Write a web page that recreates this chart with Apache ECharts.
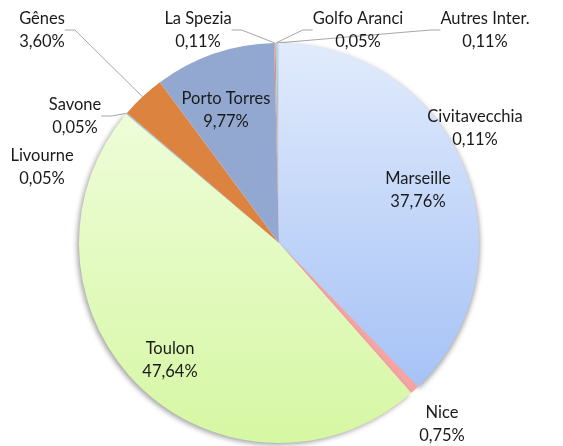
<!DOCTYPE html>
<html>
<head>
<meta charset="utf-8">
<script src="https://cdn.jsdelivr.net/npm/echarts@6/dist/echarts.min.js"></script>
<style>
  html, body { margin: 0; padding: 0; background: #fff; }
  #chart { width: 563px; height: 446px; }
</style>
</head>
<body>
<div id="chart"></div>
<script>
// ports, in drawing order (clockwise from 12 o'clock)
var ports = ['Marseille', 'Nice', 'Toulon', 'Livourne', 'Savone', 'Gênes',
             'Porto Torres', 'La Spezia', 'Golfo Aranci', 'Autres Inter.', 'Civitavecchia'];
var shares = [37.76, 0.75, 47.64, 0.05, 0.05, 3.60, 9.77, 0.11, 0.05, 0.11, 0.11];

// where each label block sits (centre of the two lines)
var labelPos = {
  'Marseille':     [418, 190],
  'Nice':          [442, 424],
  'Toulon':        [170, 360],
  'Livourne':      [42, 167],
  'Savone':        [75, 116],
  'Gênes':         [42, 30],
  'Porto Torres':  [226, 110],
  'La Spezia':     [198, 30],
  'Golfo Aranci':  [358, 30],
  'Autres Inter.': [485, 30],
  'Civitavecchia': [475, 128]
};
var withLine = ['Savone', 'Gênes', 'La Spezia', 'Golfo Aranci', 'Autres Inter.'];

function grad(top, bottom) {
  return new echarts.graphic.LinearGradient(0, 0, 0, 1, [
    { offset: 0, color: top },
    { offset: 1, color: bottom }
  ]);
}
var colors = {
  'Marseille': grad('#e1ebfc', '#a6c2f6'),
  'Nice': '#f5a3a3',
  'Toulon': grad('#eefdd9', '#d6f7a3'),
  'Livourne': '#7fb6d8',
  'Savone': '#8fb8c8',
  'Gênes': '#dc8340',
  'Porto Torres': '#93a8d1',
  'La Spezia': '#e08a8a',
  'Golfo Aranci': '#b9c9a0',
  'Autres Inter.': '#9fc4d6',
  'Civitavecchia': '#c9d9f2'
};

function fmt(v) {
  return v.toFixed(2).replace('.', ',') + '%';
}

var data = ports.map(function (p, i) {
  var item = {
    name: p,
    value: shares[i],
    itemStyle: { color: colors[p] },
    labelLine: { show: withLine.indexOf(p) >= 0 }
  };
  // soft shadow on the outer rim, bottom left and right
  if (p === 'Toulon' || p === 'Marseille') {
    item.itemStyle.shadowBlur = 5;
    item.itemStyle.shadowColor = 'rgba(0,0,0,0.35)';
    item.itemStyle.shadowOffsetX = p === 'Toulon' ? -2 : 1;
    item.itemStyle.shadowOffsetY = 2;
  }
  return item;
});

var myChart = echarts.init(document.getElementById('chart'));
myChart.setOption({
  animation: false,
  series: [{
    type: 'pie',
    center: [279, 243],
    radius: 200,
    startAngle: 90,
    clockwise: true,
    minAngle: 0,
    avoidLabelOverlap: false,
    data: data,
    itemStyle: { borderWidth: 0 },
    label: {
      show: true,
      position: 'outside',
      formatter: function (p) { return p.name + '\n' + fmt(p.value); },
      fontFamily: 'Lato',
      fontSize: 16.5,
      lineHeight: 23,
      color: '#1a1a1a',
      align: 'center'
    },
    labelLine: {
      show: true,
      length: 10,
      length2: 10,
      smooth: false,
      lineStyle: { color: '#a6a6a6', width: 1 }
    },
    labelLayout: function (params) {
      var name = ports[params.dataIndex];
      var pos = labelPos[name];
      return {
        x: pos[0],
        y: pos[1],
        align: 'center',
        verticalAlign: 'middle'
      };
    },
    emphasis: { disabled: true }
  }]
});
</script>
</body>
</html>
